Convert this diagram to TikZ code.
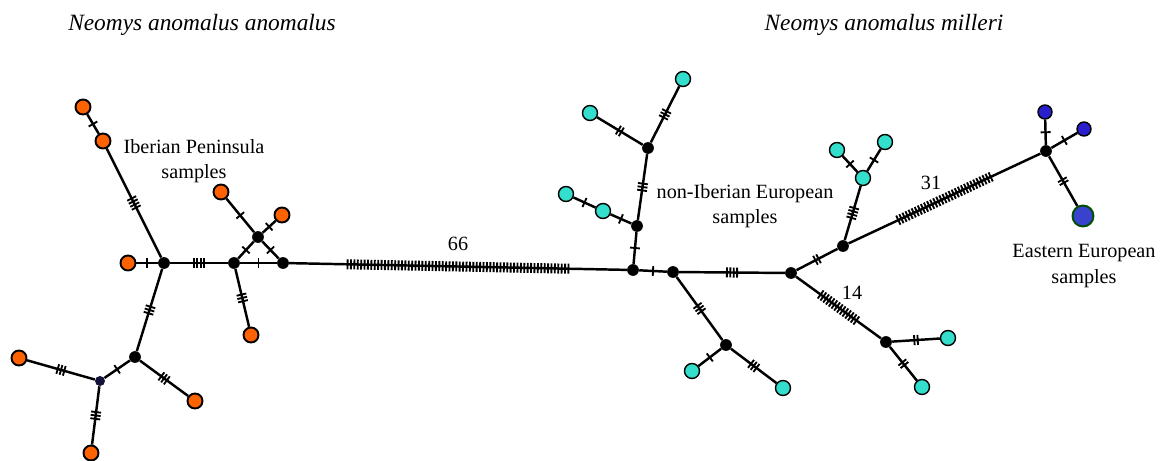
\documentclass[tikz,border=0pt]{standalone}
\usepackage{fontspec}
\setmainfont{Liberation Serif}
\usetikzlibrary{calc,backgrounds}

\definecolor{iberorange}{RGB}{255,98,0}
\definecolor{europecyan}{RGB}{52,222,204}
\definecolor{eastblue}{RGB}{42,30,205}
\definecolor{eastbig}{RGB}{56,66,205}
\definecolor{navyhub}{RGB}{18,18,58}

% mutation marks: [pos] from to count
\newcommand\mut[4][0.5]{%
	\path (#2) -- (#3) coordinate[pos=#1] (mm);
	\foreach \k in {1,...,#4}{
		\pgfmathsetmacro\off{(\k-(#4+1)/2)*0.068}
		\coordinate (tt) at ($(mm)!{\off cm}!(#3)$);
		\draw[tick] ($(tt)!0.1cm!90:(#3)$) -- ($(tt)!0.1cm!-90:(#3)$);
	}}
\newcommand\link[3]{\draw[edge] (#1) -- (#2); \mut{#1}{#2}{#3}}

\tikzset{
	hub/.style={circle,fill=black,inner sep=0,minimum size=0.235cm},
	iber/.style={circle,draw=black,line width=1.1pt,fill=iberorange,inner sep=0,minimum size=0.3cm},
	cent/.style={circle,draw=black,line width=0.8pt,fill=europecyan,inner sep=0,minimum size=0.3cm},
	east/.style={circle,draw=black,line width=0.8pt,fill=eastblue,inner sep=0,minimum size=0.28cm},
	edge/.style={line width=1.4pt},
	tick/.style={line width=1.05pt},
	group/.style={align=center,font=\fontsize{11.5}{14.6}\selectfont},
	title/.style={font=\fontsize{13.3}{16}\selectfont\itshape},
}

\begin{document}
\begin{tikzpicture}[x=0.02cm,y=-0.02cm]
	\useasboundingbox (0,0) rectangle (1163,460);
	\node [title] (tl) at (202,25) {Neomys anomalus anomalus};
	\node [title] (tr) at (884,25) {Neomys anomalus milleri};
	% Iberian haplotypes
	\node [iber] (o1) at (83,107) {};
	\node [iber] (o2) at (103,141) {};
	\node [iber] (o3) at (128,263) {};
	\node [iber] (o4) at (221,192) {};
	\node [iber] (o5) at (282,215) {};
	\node [iber] (o6) at (251,335) {};
	\node [iber] (o7) at (195,401) {};
	\node [iber] (o8) at (19,358) {};
	\node [iber] (o9) at (91,453) {};
	\node [hub] (a) at (164,263) {};
	\node [hub] (b) at (234,263) {};
	\node [hub] (c) at (258,237) {};
	\node [hub] (d) at (283,263) {};
	\node [hub] (e) at (135,357) {};
	\node [hub,fill=navyhub,minimum size=0.2cm] (f) at (100,381) {};
	% central European haplotypes
	\node [hub] (g) at (633,270) {};
	\node [hub] (h) at (637,226) {};
	\node [hub] (i) at (648,148) {};
	\node [hub] (j) at (673,272) {};
	\node [hub] (k) at (791,273) {};
	\node [hub] (l) at (726,345) {};
	\node [hub] (m) at (886,342) {};
	\node [hub] (n) at (843,246) {};
	\node [cent] (c1) at (590,113) {};
	\node [cent] (c2) at (683,79) {};
	\node [cent] (c3) at (603,211) {};
	\node [cent] (c4) at (566,194) {};
	\node [cent] (c5) at (692,371) {};
	\node [cent] (c6) at (783,388) {};
	\node [cent] (c7) at (948,338) {};
	\node [cent] (c8) at (922,387) {};
	\node [cent] (c9) at (863,178) {};
	\node [cent] (c10) at (837,150) {};
	\node [cent] (c11) at (885,142) {};
	% eastern haplotypes
	\node [hub] (p) at (1046,151) {};
	\node [east] (b1) at (1045,112) {};
	\node [east] (b2) at (1084,129) {};
	\node [east,fill=eastbig,draw=black!70!green,line width=1.1pt,minimum size=0.42cm] (b3) at (1083,216) {};
	% group labels
	\node [group] (ib) at (194,161) {Iberian Peninsula\\samples};
	\node [group] (ne) at (745,206) {non-Iberian European\\samples};
	\node [group] (ee) at (1084,266) {Eastern European\\samples};
	\node [group] (n66) at (458,244) {66};
	\node [group] (n14) at (852,293) {14};
	\node [group] (n31) at (931,183) {31};
	\begin{scope}[on background layer]
		\link{o1}{o2}{1}
		\link{o2}{a}{4}
		\link{o3}{a}{1}
		\link{a}{b}{4}
		\link{b}{c}{1}
		\link{c}{d}{1}
		\link{b}{d}{1}
		\link{c}{o4}{1}
		\link{c}{o5}{1}
		\link{b}{o6}{3}
		\link{a}{e}{3}
		\link{e}{f}{1}
		\link{e}{o7}{3}
		\link{f}{o8}{3}
		\link{f}{o9}{3}
		\link{d}{g}{66}
		\link{g}{h}{1}
		\link{h}{i}{3}
		\link{i}{c1}{2}
		\link{i}{c2}{3}
		\link{h}{c3}{1}
		\link{c3}{c4}{1}
		\link{g}{j}{1}
		\link{j}{k}{4}
		\link{j}{l}{3}
		\link{l}{c5}{1}
		\link{l}{c6}{3}
		\link{k}{m}{14}
		\link{m}{c7}{2}
		\link{m}{c8}{2}
		\link{k}{n}{2}
		\link{n}{c9}{4}
		\link{c9}{c10}{1}
		\link{c9}{c11}{1}
		\link{n}{p}{31}
		\link{p}{b1}{1}
		\link{p}{b2}{1}
		\link{p}{b3}{2}
	\end{scope}
\end{tikzpicture}
\end{document}
